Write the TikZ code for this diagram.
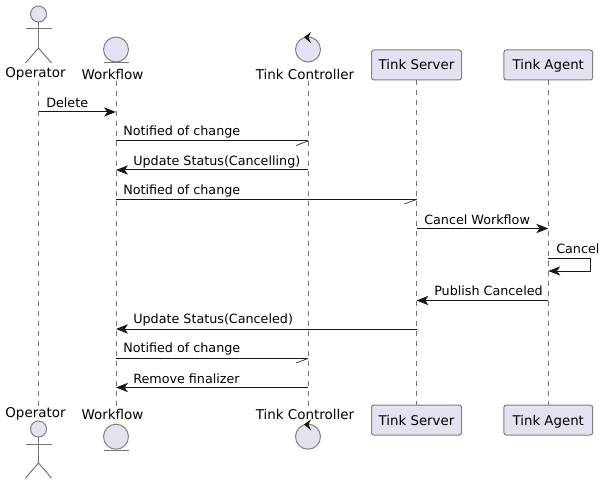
\documentclass[tikz,border=0pt]{standalone}
\usepackage{fontspec}
\setmainfont{DejaVu Sans}
\usetikzlibrary{arrows.meta}
\definecolor{partfill}{HTML}{E2E2F0}
\definecolor{partline}{HTML}{181818}
\tikzset{
    shapeline/.style={draw=partline!55, line width=0.75pt, fill=partfill},
    stickline/.style={draw=partline!60, line width=0.75pt},
    lifeline/.style={draw=partline!60, line width=0.5pt, dash pattern=on 3.75pt off 3.75pt},
    msgline/.style={draw=partline, line width=0.75pt},
    msgfull/.style={msgline, -{Stealth[length=9pt, width=7pt, inset=2.5pt]}},
    msgbarb/.style={draw=partline!85, line width=0.6pt},
    partname/.style={font=\fontsize{10.1}{12}\selectfont, text=black, inner sep=0pt},
    partbox/.style={shapeline, rounded corners=1.8pt, font=\fontsize{10}{12}\selectfont, text=black,
        inner sep=0pt, text height=7.5pt, text depth=0pt, minimum width=67.5pt, minimum height=22.5pt},
    msgtext/.style={font=\fontsize{9.55}{12}\selectfont, text=black, inner sep=0pt, anchor=west},
}
\begin{document}
\begin{tikzpicture}[x=0.75pt, y=-0.75pt]
    \useasboundingbox (0,0) rectangle (604,485);

    % =========================================================================
    % PARTICIPANTS
    % =========================================================================
    % --- Top row ---
    \node[partname] (OperatorTop) at (35.5,74) {Operator};
    \node[partname] (WorkflowTop) at (112.5,74) {Workflow};
    \node[partname] (ControllerTop) at (305,74) {Tink Controller};
    \node[partbox] (ServerTop) at (416.5,65) {Tink Server};
    \node[partbox, minimum width=66.5pt] (AgentTop) at (548.3,65) {Tink Agent};

    % --- Bottom row ---
    \node[partname] (OperatorBot) at (35.5,414) {Operator};
    \node[partname] (WorkflowBot) at (112.5,414) {Workflow};
    \node[partname] (ControllerBot) at (305,414) {Tink Controller};
    \node[partbox] (ServerBot) at (416.5,420) {Tink Server};
    \node[partbox, minimum width=66.5pt] (AgentBot) at (548.3,420) {Tink Agent};

    % --- Lifelines ---
    \coordinate (OperatorLine) at (38.5,81);
    \coordinate (OperatorEnd) at (38.5,406);
    \coordinate (WorkflowLine) at (116,81);
    \coordinate (WorkflowEnd) at (116,406);
    \coordinate (ControllerLine) at (308,81);
    \coordinate (ControllerEnd) at (308,406);
    \draw[lifeline] (OperatorLine) -- (OperatorEnd);
    \draw[lifeline] (WorkflowLine) -- (WorkflowEnd);
    \draw[lifeline] (ControllerLine) -- (ControllerEnd);
    \draw[lifeline] (ServerTop) -- (ServerBot);
    \draw[lifeline] (AgentTop) -- (AgentBot);

    % =========================================================================
    % ICONS
    % =========================================================================
    \foreach \iconshift/\bodyshift in {0/0, 415/387.2} {
        % --- Actor ---
        \begin{scope}[shift={(38.5,\iconshift)}]
            \draw[shapeline] (0,14) circle (8);
            \draw[stickline] (0,22) -- (0,48);
            \draw[stickline] (-13,29) -- (13,29);
            \draw[stickline] (-13,63) -- (0,48) -- (13,63);
        \end{scope}
        % --- Entity ---
        \begin{scope}[shift={(116,\bodyshift)}]
            \draw[shapeline] (0,49.5) circle (12.5);
            \draw[stickline] (-12.5,63) -- (12.5,63);
        \end{scope}
        % --- Control ---
        \begin{scope}[shift={(308,\bodyshift)}]
            \draw[shapeline] (0,49.5) circle (12.5);
            \fill[partline] (-4,37.2) -- (3,32) -- (0.5,37.5) -- (3,43.2) -- cycle;
        \end{scope}
    }

    % =========================================================================
    % MESSAGES
    % =========================================================================
    \coordinate (Row1) at (0,112);
    \coordinate (Row2) at (0,141);
    \coordinate (Row3) at (0,170);
    \coordinate (Row4) at (0,199.5);
    \coordinate (Row5) at (0,228.5);
    \coordinate (Row6) at (0,258);
    \coordinate (Row6b) at (0,271);
    \coordinate (Row7) at (0,300.5);
    \coordinate (Row8) at (0,329);
    \coordinate (Row9) at (0,358.5);
    \coordinate (Row10) at (0,387.5);
    \coordinate (SelfEdge) at (590.5,0);

    \draw[msgfull] (OperatorLine |- Row1) -- (WorkflowLine |- Row1);
    \node[msgtext] (MsgDelete) at (46,102.5) {Delete};

    \draw[msgline] (WorkflowLine |- Row2) -- (ControllerLine |- Row2);
    \draw[msgbarb] (ControllerLine |- Row2) -- +(-12,4.5);
    \node[msgtext] (MsgNotifiedA) at (123,132) {Notified of change};

    \draw[msgfull] (ControllerLine |- Row3) -- (WorkflowLine |- Row3);
    \node[msgtext] (MsgCancelling) at (133,161.5) {Update Status(Cancelling)};

    \draw[msgline] (WorkflowLine |- Row4) -- (ServerTop |- Row4);
    \draw[msgbarb] (ServerTop |- Row4) -- +(-12,4.5);
    \node[msgtext] (MsgNotifiedB) at (123,190.5) {Notified of change};

    \draw[msgfull] (ServerTop |- Row5) -- (AgentTop |- Row5);
    \node[msgtext] (MsgCancelWf) at (424,219.5) {Cancel Workflow};

    \draw[msgfull] (AgentTop |- Row6) -- (SelfEdge |- Row6) -- (SelfEdge |- Row6b) -- (AgentTop |- Row6b);
    \node[msgtext] (MsgCancel) at (556,249) {Cancel};

    \draw[msgfull] (AgentTop |- Row7) -- (ServerTop |- Row7);
    \node[msgtext] (MsgPublish) at (434,291) {Publish Canceled};

    \draw[msgfull] (ServerTop |- Row8) -- (WorkflowLine |- Row8);
    \node[msgtext] (MsgCanceled) at (133,320) {Update Status(Canceled)};

    \draw[msgline] (WorkflowLine |- Row9) -- (ControllerLine |- Row9);
    \draw[msgbarb] (ControllerLine |- Row9) -- +(-12,4.5);
    \node[msgtext] (MsgNotifiedC) at (123,349) {Notified of change};

    \draw[msgfull] (ControllerLine |- Row10) -- (WorkflowLine |- Row10);
    \node[msgtext] (MsgFinalizer) at (133,378.5) {Remove finalizer};

\end{tikzpicture}
\end{document}
